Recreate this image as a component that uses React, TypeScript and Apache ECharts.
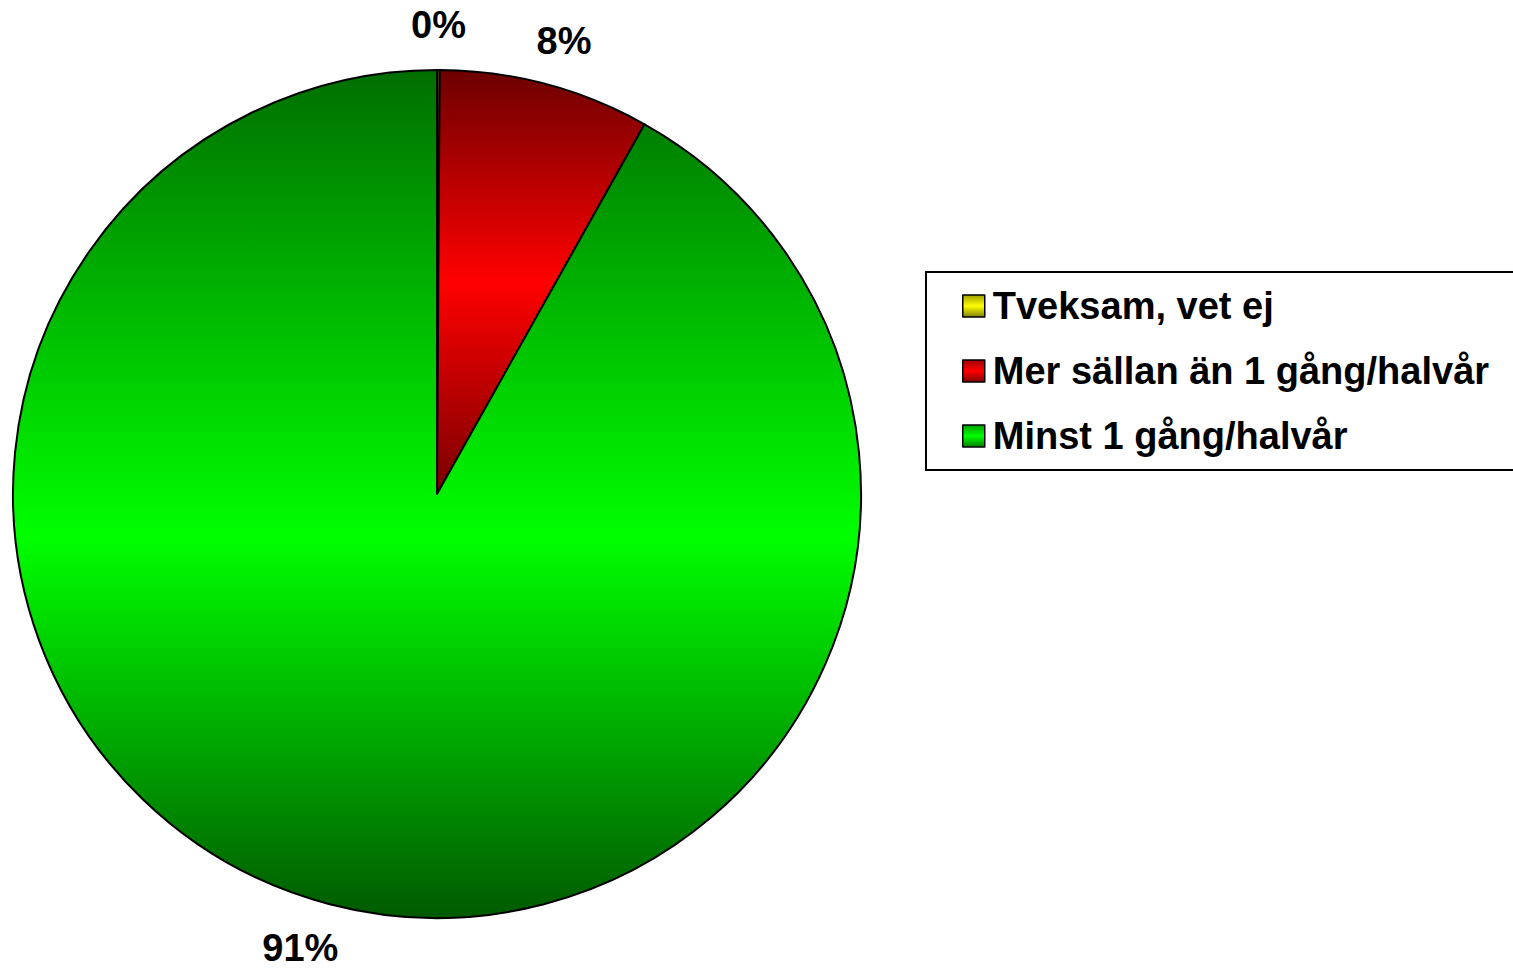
import React, { useEffect, useRef } from "react";
import * as echarts from "echarts";

const categories = ["Tveksam, vet ej", "Mer sällan än 1 gång/halvår", "Minst 1 gång/halvår"];
const values = [0.1, 8.0, 91.4];
const labels = ["0%", "8%", "91%"];

const grad = (a: string, b: string, c: string, mid = 0.5) =>
  new echarts.graphic.LinearGradient(0, 0, 0, 1, [
    { offset: 0, color: a },
    { offset: mid, color: b },
    { offset: 1, color: c },
  ]);

export default function App() {
  const ref = useRef<HTMLDivElement>(null);
  useEffect(() => {
    const chart = echarts.init(ref.current!, null, { renderer: "svg" });
    const cols = [
      grad("#8a8a00", "#ffff00", "#7a7a00"),
      grad("#6c0000", "#ff0000", "#780000"),
      grad("#006e00", "#00ff00", "#005a00", 0.55),
    ];
    const legendCols = [
      grad("#a0a000", "#ffff00", "#808000"),
      grad("#a00000", "#ff0000", "#800000"),
      grad("#00a000", "#00ff00", "#008000"),
    ];
    // small per-label nudges to mimic the original placement
    const labelPads = [
      [8, 0, 0, 0],
      [0, 0, 0, 14],
      [10, 36, 0, 0],
    ];
    const font = "Liberation Sans, Arial, sans-serif";
    chart.setOption({
      animation: false,
      backgroundColor: "#ffffff",
      legend: {
        orient: "vertical",
        left: 962,
        top: 286,
        padding: 0,
        itemWidth: 22,
        itemHeight: 22,
        itemGap: 25,
        icon: "rect",
        selectedMode: false,
        formatter: (n: string) => "{a|" + n + "}",
        textStyle: {
          fontFamily: font,
          fontWeight: "bold",
          fontSize: 38,
          color: "#000",
          lineHeight: 40,
          rich: {
            a: {
              fontFamily: font,
              fontWeight: "bold",
              fontSize: 38,
              color: "#000",
              lineHeight: 40,
              padding: [0, 0, 0, 3],
            },
          },
        },
        data: categories.map((c, i) => ({
          name: c,
          itemStyle: { color: legendCols[i], borderColor: "#000", borderWidth: 1.5 },
        })),
      },
      graphic: [
        {
          type: "rect",
          shape: { x: 926, y: 272, width: 620, height: 198 },
          style: { fill: "none", stroke: "#000", lineWidth: 2 },
          z: -1,
          silent: true,
        },
      ],
      series: [
        {
          type: "pie",
          center: [437, 494],
          radius: [0, 424],
          startAngle: 90,
          clockwise: true,
          avoidLabelOverlap: false,
          label: { show: false },
          labelLine: { show: false },
          emphasis: { disabled: true },
          itemStyle: { borderColor: "#000", borderWidth: 2 },
          data: categories.map((c, i) => ({
            name: c,
            value: values[i],
            itemStyle: { color: cols[i] },
          })),
        },
        {
          type: "pie",
          center: [437, 494],
          radius: [446, 486],
          startAngle: 90,
          clockwise: true,
          silent: true,
          avoidLabelOverlap: false,
          emphasis: { disabled: true },
          itemStyle: { color: "rgba(0,0,0,0)", borderWidth: 0 },
          labelLine: { show: false },
          label: {
            show: true,
            position: "inside",
            color: "#000",
            fontFamily: font,
            fontWeight: "bold",
            fontSize: 38,
            formatter: (p: any) => labels[p.dataIndex],
          },
          data: categories.map((c, i) => ({
            name: c,
            value: values[i],
            label: { padding: labelPads[i] },
          })),
        },
      ],
    });
    return () => chart.dispose();
  }, []);
  return (
    <div
      ref={ref}
      style={{ position: "fixed", left: 0, top: 0, width: 1513, height: 971 }}
    />
  );
}
